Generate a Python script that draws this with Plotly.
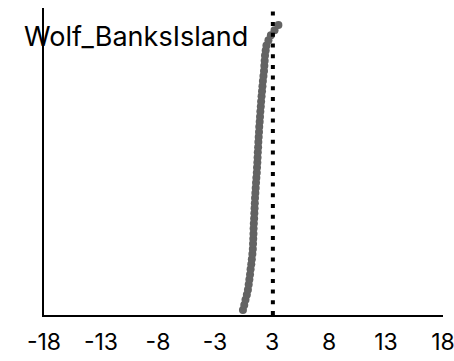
import plotly.graph_objects as go

# Sorted sample values (x) and their quantile levels (y)
sample_values = [
    -0.05, 0.07, 0.18, 0.30, 0.40, 0.47, 0.53, 0.59, 0.64, 0.70,
    0.75, 0.80, 0.84, 0.86, 0.88, 0.90, 0.91, 0.93, 0.96, 0.98,
    1.00, 1.02, 1.04, 1.07, 1.10, 1.13, 1.16, 1.20, 1.22, 1.25,
    1.27, 1.29, 1.32, 1.34, 1.37, 1.40, 1.42, 1.46, 1.49, 1.52,
    1.56, 1.59, 1.63, 1.67, 1.71, 1.75, 1.80, 1.85, 1.88, 1.91,
    1.94, 2.00, 2.07, 2.25, 2.47, 2.80, 3.15,
]
n = len(sample_values)
quantile_levels = [i / (n - 1) for i in range(n)]

reference_value = 2.65
label = "Wolf_BanksIsland"

tick_vals = [-18, -12.857, -7.714, -2.571, 2.571, 7.714, 12.857, 18]
tick_text = ["-18", "-13", "-8", "-3", "3", "8", "13", "18"]

FONT = "Inter"

fig = go.Figure()
fig.add_trace(go.Scatter(
    x=sample_values,
    y=quantile_levels,
    mode="markers",
    marker=dict(size=8, color="#636363", line=dict(width=0)),
    showlegend=False,
    hoverinfo="skip",
))

fig.add_shape(
    type="line", xref="x", yref="paper",
    x0=reference_value, x1=reference_value, y0=0, y1=1,
    line=dict(color="black", width=4, dash="4px,6.7px"),
)

fig.add_annotation(
    text=label, xref="paper", yref="paper",
    x=-0.055, y=0.907, xanchor="left", yanchor="middle",
    showarrow=False, font=dict(family=FONT, size=27, color="black"),
)

fig.update_layout(
    width=454, height=361,
    margin=dict(l=44, r=11, t=8, b=46),
    paper_bgcolor="white", plot_bgcolor="white",
    font=dict(family=FONT, size=23, color="black"),
    xaxis=dict(
        range=[-18, 18], tickvals=tick_vals, ticktext=tick_text,
        showgrid=False, zeroline=False, showline=True,
        linecolor="black", linewidth=2, ticks="",
        ticklabeloverflow="allow", automargin=False,
        ticklabelstandoff=5,
        tickfont=dict(family=FONT, size=23, color="black"),
    ),
    yaxis=dict(
        range=[-0.0175, 1.06], showticklabels=False,
        showgrid=False, zeroline=False, showline=True,
        linecolor="black", linewidth=2, ticks="", automargin=False,
    ),
)

fig.write_html("out.html")
